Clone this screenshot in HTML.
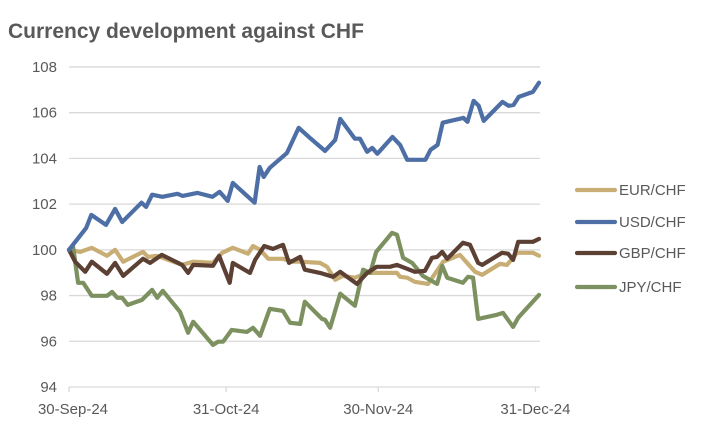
<!DOCTYPE html>
<html><head><meta charset="utf-8"><style>
body{margin:0;background:#fff;width:720px;height:431px;overflow:hidden;font-family:"Liberation Sans",Arial,sans-serif}
</style></head><body>
<svg id="chart" width="720" height="431" xmlns="http://www.w3.org/2000/svg">
<text x="8" y="38" font-size="21" font-weight="bold" fill="#595959">Currency development against CHF</text>
<g id="grid"></g>
<g id="yaxis"></g>
<g id="xaxis"></g>
<g id="series"></g>
<g id="legend"></g>
</svg>
<script>
const yTicks=[94,96,98,100,102,104,106,108];
const xTickDays=[0,31,61,92];
const xTickLabels=["30-Sep-24","31-Oct-24","30-Nov-24","31-Dec-24"];
const seriesNames=["EUR/CHF","USD/CHF","GBP/CHF","JPY/CHF"];
const eurDays=[0,2.2,4.5,7.5,9.1,10.7,14.6,15.6,17.4,22.3,24.5,28.4,30.2,32.3,35.3,36.3,37.7,39.3,42.2,44.2,45.6,49.5,50.9,52.5,54,56.4,58.8,60.7,64.7,65.3,66.7,68.2,70.8,73.8,77.1,80.1,81.5,85,86.4,88.4,91.5,92.7];
const eurVals=[100,99.91,100.09,99.74,100,99.48,99.91,99.69,99.74,99.34,99.48,99.43,99.87,100.09,99.83,100.17,100,99.61,99.61,99.48,99.48,99.43,99.26,98.69,98.86,98.78,98.99,98.99,98.99,98.82,98.78,98.6,98.51,99.48,99.78,99.04,98.91,99.39,99.34,99.87,99.87,99.74];
const usdDays=[0,3.4,4.4,7.3,9.1,10.5,14.3,15.2,16.4,18.4,21.4,22.4,25.3,28.3,29.7,31.3,32.3,36.6,37.6,38.4,39.6,43,45.3,47.5,50.5,52.5,53.5,56.4,57.4,58.8,59.8,60.8,63.8,65.3,66.7,70.3,71.3,72.7,73.7,77.8,78.6,79.8,80.8,81.8,85.5,86.7,87.7,88.7,91.5,92.7];
const usdVals=[100,100.96,101.53,101.09,101.79,101.22,102.06,101.88,102.41,102.32,102.45,102.36,102.49,102.32,102.54,102.14,102.93,102.06,103.63,103.19,103.59,104.24,105.34,104.9,104.33,104.81,105.73,104.86,104.86,104.29,104.46,104.2,104.94,104.59,103.94,103.94,104.37,104.59,105.56,105.77,105.6,106.52,106.3,105.64,106.47,106.3,106.34,106.69,106.91,107.31];
const gbpDays=[0,1.2,3.2,4.5,7.5,9.1,10.7,14.6,16,18.3,22.3,23.5,24.5,28.4,29.6,31.7,32.3,35.7,36.7,38.5,40.2,42.2,43.4,45.6,46.5,49.5,52.1,53.5,56.8,58.8,60.7,63.3,64.7,66.7,68.2,70.2,71.6,72.6,73.6,74.6,77.7,79.1,80.7,81.5,85.4,86.6,87.6,88.6,91.5,92.7];
const gbpVals=[100,99.48,99.04,99.48,98.95,99.43,98.86,99.61,99.43,99.78,99.34,98.99,99.34,99.3,99.74,98.56,99.43,98.99,99.56,100.17,100.04,100.22,99.43,99.69,99.13,98.99,98.82,99.04,98.51,98.99,99.26,99.26,99.34,99.17,99.04,99.08,99.65,99.69,99.91,99.61,100.31,100.22,99.43,99.34,99.87,99.83,99.56,100.35,100.35,100.48];
const jpyDays=[0,0.8,1.8,2.8,4.5,7.5,8.5,9.5,10.5,11.6,14.4,16.4,17.4,18.5,21.9,23.5,24.5,28.4,29.4,30.4,32.1,35.1,36.3,37.7,39.6,42.2,43.6,45.6,46.5,49.9,50.5,51.5,53.5,56.4,58,59.4,60.6,63.7,64.7,65.9,67.7,69.8,72.6,73.6,74.6,77.7,78.7,79.7,80.7,84.4,85.6,87.6,88.6,92.7];
const jpyVals=[100,100.13,98.56,98.56,97.99,97.99,98.16,97.9,97.9,97.59,97.81,98.25,97.9,98.21,97.29,96.37,96.85,95.84,95.98,95.98,96.5,96.41,96.59,96.24,97.42,97.33,96.81,96.76,97.73,96.98,96.94,96.59,98.08,97.55,99.13,98.99,99.91,100.74,100.66,99.65,99.43,98.86,98.51,99.3,98.78,98.56,98.82,98.78,96.98,97.16,97.24,96.63,97.03,98.03];
const colors=["#C8AE74","#4E6FA6","#5C4033","#7D9160"];
const NS="http://www.w3.org/2000/svg";
const X0=69,XS=5.07,Y0=387,YMIN=94,YPX=22.86,XEND=540;
const xs=d=>X0+d*XS, ys=v=>Y0-(v-YMIN)*YPX;
function mk(tag,attrs,parent){const e=document.createElementNS(NS,tag);for(const k in attrs)e.setAttribute(k,attrs[k]);parent.appendChild(e);return e;}
const grid=document.getElementById('grid'),ya=document.getElementById('yaxis'),xa=document.getElementById('xaxis'),sg=document.getElementById('series'),lg=document.getElementById('legend');
yTicks.forEach(t=>{
  if(t!==94){const l=mk('line',{x1:X0,x2:XEND,y1:ys(t),y2:ys(t),stroke:'#d9d9d9','stroke-width':1.3},grid);
  
  }
  const tx=mk('text',{x:57,y:ys(t)+5,'text-anchor':'end','font-size':15,fill:'#595959'},ya);tx.textContent=t;
  
  
});
const ax=mk('line',{x1:X0,x2:XEND,y1:Y0,y2:Y0,stroke:'#d9d9d9','stroke-width':1.3},xa);


xTickDays.forEach((d,i)=>{
  const tk=mk('line',{x1:xs(d),x2:xs(d),y1:Y0,y2:Y0+5,stroke:'#d9d9d9','stroke-width':1.3},xa);
  
  
  const tx=mk('text',{x:xs(d)+(i==0?4:0),y:414,'text-anchor':'middle','font-size':15,fill:'#595959'},xa);tx.textContent=xTickLabels[i];
  
  
});
const allDays=[eurDays,usdDays,gbpDays,jpyDays],allVals=[eurVals,usdVals,gbpVals,jpyVals];
[0,3,2,1].forEach(i=>{
  const pts=allDays[i].map((d,j)=>xs(d).toFixed(1)+','+ys(allVals[i][j]).toFixed(1)).join(' ');
  const p=mk('polyline',{points:pts,fill:'none',stroke:colors[i],'stroke-width':4.2,'stroke-linejoin':'round','stroke-linecap':'round'},sg);
  
  
});
const ly=[190,222,253,287];
seriesNames.forEach((n,i)=>{
  const g=mk('g',{},lg);
  
  
  mk('line',{x1:577,x2:615,y1:ly[i],y2:ly[i],stroke:colors[i],'stroke-width':4.2,'stroke-linecap':'round'},g);
  const t=mk('text',{x:619,y:ly[i]+5,'font-size':15,fill:'#595959'},g);t.textContent=n;
});
</script>
</body></html>
